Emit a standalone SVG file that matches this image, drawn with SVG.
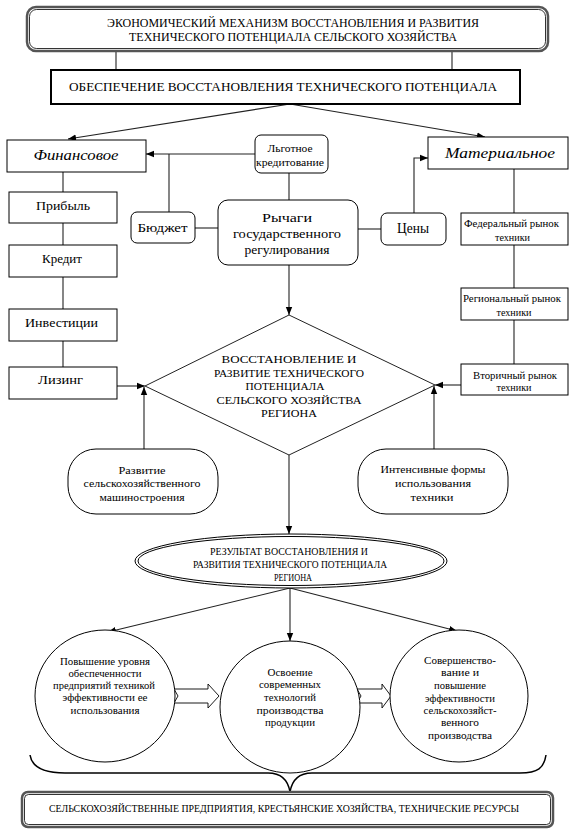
<svg xmlns="http://www.w3.org/2000/svg" width="574" height="831" viewBox="0 0 574 831">
<defs>
<style>
.bx{fill:#fff;stroke:#000;stroke-width:1}
.c{stroke:#222;stroke-width:1.1;fill:none}
.ca{stroke:#222;stroke-width:1.1;fill:none;marker-end:url(#ah)}
</style>
<marker id="ah" markerUnits="userSpaceOnUse" markerWidth="8" markerHeight="8" refX="8" refY="4" orient="auto">
<path d="M0,0.8 L8,4 L0,7.2 z" fill="#000"/>
</marker>
</defs>
<rect width="574" height="831" fill="#fff"/>

<g id="connectors">
<line class="c" x1="116" y1="51" x2="116" y2="70"/>
<line class="c" x1="452" y1="51" x2="452" y2="70"/>
<line class="ca" x1="290" y1="104" x2="68" y2="139"/>
<line class="ca" x1="290" y1="104" x2="485" y2="137"/>
<line class="ca" x1="255" y1="154" x2="146" y2="154"/>
<line class="c" x1="169" y1="212" x2="169" y2="154"/>
<line class="c" x1="289" y1="173" x2="289" y2="200"/>
<line class="c" x1="195" y1="228" x2="218" y2="228"/>
<line class="c" x1="358" y1="229" x2="381" y2="229"/>
<polyline class="ca" points="414,213 414,158 428,158"/>
<line class="c" x1="63" y1="172" x2="63" y2="192"/>
<line class="c" x1="63" y1="223" x2="63" y2="245"/>
<line class="c" x1="63" y1="277" x2="63" y2="309"/>
<line class="c" x1="63" y1="341" x2="63" y2="367"/>
<line class="c" x1="514" y1="169" x2="514" y2="213"/>
<line class="c" x1="514" y1="245" x2="514" y2="288"/>
<line class="c" x1="514" y1="320" x2="514" y2="364"/>
<line class="ca" x1="289" y1="265" x2="289" y2="315"/>
<line class="ca" x1="117" y1="386" x2="145" y2="386"/>
<line class="ca" x1="461" y1="385" x2="435" y2="385"/>
<line class="ca" x1="144" y1="449" x2="144" y2="387"/>
<line class="ca" x1="434" y1="449" x2="434" y2="386"/>
<line class="ca" x1="289" y1="455" x2="289" y2="534"/>
<line class="ca" x1="290" y1="588" x2="108" y2="632"/>
<line class="ca" x1="290" y1="588" x2="290" y2="641"/>
<line class="ca" x1="290" y1="588" x2="457" y2="631"/>
<polygon points="174,689 208,689 208,684 219,696 208,708 208,703 174,703 178,696" fill="#fff" stroke="#000" stroke-width="0.9"/>
<polygon points="357,689 382,689 382,684 391,696 382,708 382,703 357,703 361,696" fill="#fff" stroke="#000" stroke-width="0.9"/>
<path d="M30,755 C32,768 45,773 65,773 L268,773 C282,773 288,780 290,792 C292,780 298,773 312,773 L520,773 C538,773 544,768 546,755" fill="none" stroke="#000" stroke-width="1.5"/>
</g>

<g font-family="Times New Roman, Liberation Serif, serif" text-anchor="middle" fill="#000">
<g id="n-top">
<rect x="27" y="7" width="521" height="44" rx="9" fill="#fff" stroke="#555" stroke-width="2.5"/>
<rect x="29.5" y="9.5" width="516" height="39" rx="7" fill="none" stroke="#000" stroke-width="0.8"/>
<text x="293" y="27" font-size="12" textLength="372" lengthAdjust="spacingAndGlyphs">ЭКОНОМИЧЕСКИЙ МЕХАНИЗМ ВОССТАНОВЛЕНИЯ И РАЗВИТИЯ</text>
<text x="293" y="41" font-size="12" textLength="328" lengthAdjust="spacingAndGlyphs">ТЕХНИЧЕСКОГО ПОТЕНЦИАЛА СЕЛЬСКОГО ХОЗЯЙСТВА</text>
</g>

<g id="n-supply">
<rect x="51" y="70" width="469" height="34" fill="#fff" stroke="#000" stroke-width="2"/>
<text x="283" y="91" font-size="12" textLength="428" lengthAdjust="spacingAndGlyphs">ОБЕСПЕЧЕНИЕ ВОССТАНОВЛЕНИЯ ТЕХНИЧЕСКОГО ПОТЕНЦИАЛА</text>
</g>

<g id="n-fin">
<rect class="bx" x="7" y="140" width="139" height="32"/>
<text x="76" y="160" font-style="italic" font-size="15" textLength="85" lengthAdjust="spacingAndGlyphs">Финансовое</text>
</g>
<g id="n-credit-pref">
<rect class="bx" x="255" y="135" width="73" height="38" rx="6"/>
<text x="290" y="152" font-size="10" textLength="45" lengthAdjust="spacingAndGlyphs">Льготное</text>
<text x="290" y="165.5" font-size="9.5" textLength="68" lengthAdjust="spacingAndGlyphs">кредитование</text>
</g>
<g id="n-mat">
<rect class="bx" x="428" y="137" width="140" height="32"/>
<text x="500" y="158" font-style="italic" font-size="15" textLength="110" lengthAdjust="spacingAndGlyphs">Материальное</text>
</g>

<g id="n-profit">
<rect class="bx" x="9" y="192" width="108" height="31"/>
<text x="63" y="210" font-size="13" textLength="54" lengthAdjust="spacingAndGlyphs">Прибыль</text>
</g>
<g id="n-credit">
<rect class="bx" x="9" y="245" width="108" height="32"/>
<text x="62" y="262.5" font-size="13" textLength="40" lengthAdjust="spacingAndGlyphs">Кредит</text>
</g>
<g id="n-invest">
<rect class="bx" x="9" y="309" width="108" height="32"/>
<text x="61.5" y="326.5" font-size="13" textLength="73" lengthAdjust="spacingAndGlyphs">Инвестиции</text>
</g>
<g id="n-leasing">
<rect class="bx" x="9" y="367" width="108" height="32"/>
<text x="60.5" y="383.5" font-size="13" textLength="45" lengthAdjust="spacingAndGlyphs">Лизинг</text>
</g>

<g id="n-budget">
<rect class="bx" x="131" y="212" width="64" height="31" rx="6"/>
<text x="162.5" y="231.5" font-size="13" textLength="50" lengthAdjust="spacingAndGlyphs">Бюджет</text>
</g>
<g id="n-levers">
<rect class="bx" x="218" y="200" width="140" height="65" rx="10"/>
<text x="287" y="221.5" font-size="13" textLength="50" lengthAdjust="spacingAndGlyphs">Рычаги</text>
<text x="287" y="237.5" font-size="13" textLength="108" lengthAdjust="spacingAndGlyphs">государственного</text>
<text x="287" y="253.5" font-size="13" textLength="85" lengthAdjust="spacingAndGlyphs">регулирования</text>
</g>
<g id="n-prices">
<rect class="bx" x="381" y="213" width="65" height="32" rx="6"/>
<text x="413" y="233" font-size="14" textLength="32" lengthAdjust="spacingAndGlyphs">Цены</text>
</g>

<g id="n-fed">
<rect class="bx" x="461" y="213" width="107" height="32"/>
<text x="511.5" y="226.5" font-size="9.5" textLength="95" lengthAdjust="spacingAndGlyphs">Федеральный рынок</text>
<text x="512.5" y="240.5" font-size="9.5" textLength="35" lengthAdjust="spacingAndGlyphs">техники</text>
</g>
<g id="n-reg">
<rect class="bx" x="461" y="288" width="107" height="32"/>
<text x="512" y="301.5" font-size="9.5" textLength="98" lengthAdjust="spacingAndGlyphs">Региональный рынок</text>
<text x="514" y="315.5" font-size="9.5" textLength="35" lengthAdjust="spacingAndGlyphs">техники</text>
</g>
<g id="n-sec">
<rect class="bx" x="461" y="364" width="107" height="31"/>
<text x="515" y="378.5" font-size="9.5" textLength="84" lengthAdjust="spacingAndGlyphs">Вторичный рынок</text>
<text x="514" y="390.5" font-size="9.5" textLength="35" lengthAdjust="spacingAndGlyphs">техники</text>
</g>

<g id="n-diamond">
<polygon points="289,315 435,385 289,455 145,386" fill="#fff" stroke="#222" stroke-width="1"/>
<text x="289" y="363" font-size="11" textLength="135" lengthAdjust="spacingAndGlyphs">ВОССТАНОВЛЕНИЕ И</text>
<text x="289" y="377" font-size="11" textLength="150" lengthAdjust="spacingAndGlyphs">РАЗВИТИЕ ТЕХНИЧЕСКОГО</text>
<text x="285" y="390" font-size="11" textLength="79" lengthAdjust="spacingAndGlyphs">ПОТЕНЦИАЛА</text>
<text x="289" y="404" font-size="11" textLength="145" lengthAdjust="spacingAndGlyphs">СЕЛЬСКОГО ХОЗЯЙСТВА</text>
<text x="289" y="417" font-size="11" textLength="56" lengthAdjust="spacingAndGlyphs">РЕГИОНА</text>
</g>

<g id="n-machine">
<rect class="bx" x="68" y="449" width="150" height="65" rx="28"/>
<text x="142" y="473.5" font-size="10" textLength="47" lengthAdjust="spacingAndGlyphs">Развитие</text>
<text x="142" y="487" font-size="10" textLength="117" lengthAdjust="spacingAndGlyphs">сельскохозяйственного</text>
<text x="142" y="500.5" font-size="10" textLength="85" lengthAdjust="spacingAndGlyphs">машиностроения</text>
</g>
<g id="n-intensive">
<rect class="bx" x="358" y="449" width="150" height="65" rx="28"/>
<text x="433" y="473" font-size="10" textLength="105" lengthAdjust="spacingAndGlyphs">Интенсивные формы</text>
<text x="433" y="487" font-size="10" textLength="76" lengthAdjust="spacingAndGlyphs">использования</text>
<text x="432" y="500.5" font-size="10" textLength="43" lengthAdjust="spacingAndGlyphs">техники</text>
</g>

<g id="n-result">
<ellipse cx="291" cy="561" rx="156" ry="27" fill="#fff" stroke="#000" stroke-width="1"/>
<ellipse cx="291" cy="561" rx="153" ry="24.5" fill="none" stroke="#000" stroke-width="1"/>
<text x="289" y="554.5" font-size="9.5" textLength="158" lengthAdjust="spacingAndGlyphs">РЕЗУЛЬТАТ ВОССТАНОВЛЕНИЯ И</text>
<text x="290" y="567.5" font-size="9.5" textLength="194" lengthAdjust="spacingAndGlyphs">РАЗВИТИЯ ТЕХНИЧЕСКОГО ПОТЕНЦИАЛА</text>
<text x="293" y="580.5" font-size="9.5" textLength="38" lengthAdjust="spacingAndGlyphs">РЕГИОНА</text>
</g>

<g id="n-c1">
<ellipse class="bx" cx="105" cy="696" rx="70" ry="66"/>
<text x="105" y="664.5" font-size="10" textLength="90" lengthAdjust="spacingAndGlyphs">Повышение уровня</text>
<text x="105" y="676.5" font-size="10" textLength="73" lengthAdjust="spacingAndGlyphs">обеспеченности</text>
<text x="104" y="688.5" font-size="10" textLength="102" lengthAdjust="spacingAndGlyphs">предприятий техникой</text>
<text x="105" y="700.5" font-size="10" textLength="85" lengthAdjust="spacingAndGlyphs">эффективности ее</text>
<text x="105" y="713.5" font-size="10" textLength="69" lengthAdjust="spacingAndGlyphs">использования</text>
</g>
<g id="n-c2">
<ellipse class="bx" cx="290" cy="707" rx="70" ry="66"/>
<text x="290" y="675.5" font-size="10" textLength="45" lengthAdjust="spacingAndGlyphs">Освоение</text>
<text x="290" y="687.5" font-size="10" textLength="62" lengthAdjust="spacingAndGlyphs">современных</text>
<text x="290" y="700.5" font-size="10" textLength="52" lengthAdjust="spacingAndGlyphs">технологий</text>
<text x="290" y="713.5" font-size="10" textLength="67" lengthAdjust="spacingAndGlyphs">производства</text>
<text x="290" y="725.5" font-size="10" textLength="50" lengthAdjust="spacingAndGlyphs">продукции</text>
</g>
<g id="n-c3">
<ellipse class="bx" cx="459" cy="696" rx="69" ry="66"/>
<text x="460" y="663.5" font-size="10" textLength="72" lengthAdjust="spacingAndGlyphs">Совершенство-</text>
<text x="460" y="675.5" font-size="10" textLength="38" lengthAdjust="spacingAndGlyphs">вание и</text>
<text x="460" y="688.5" font-size="10" textLength="52" lengthAdjust="spacingAndGlyphs">повышение</text>
<text x="460" y="701.5" font-size="10" textLength="70" lengthAdjust="spacingAndGlyphs">эффективности</text>
<text x="460" y="713.5" font-size="10" textLength="73" lengthAdjust="spacingAndGlyphs">сельскохозяйст-</text>
<text x="460" y="725.5" font-size="10" textLength="38" lengthAdjust="spacingAndGlyphs">венного</text>
<text x="460" y="738.5" font-size="10" textLength="64" lengthAdjust="spacingAndGlyphs">производства</text>
</g>

<g id="n-bottom">
<rect x="22" y="792" width="531" height="35" rx="6" fill="#fff" stroke="#555" stroke-width="2.5"/>
<rect x="24.5" y="794.5" width="526" height="30" rx="4" fill="none" stroke="#000" stroke-width="0.8"/>
<text x="284" y="811.5" font-size="9.5" textLength="470" lengthAdjust="spacingAndGlyphs">СЕЛЬСКОХОЗЯЙСТВЕННЫЕ ПРЕДПРИЯТИЯ, КРЕСТЬЯНСКИЕ ХОЗЯЙСТВА, ТЕХНИЧЕСКИЕ РЕСУРСЫ</text>
</g>
</g>
</svg>
